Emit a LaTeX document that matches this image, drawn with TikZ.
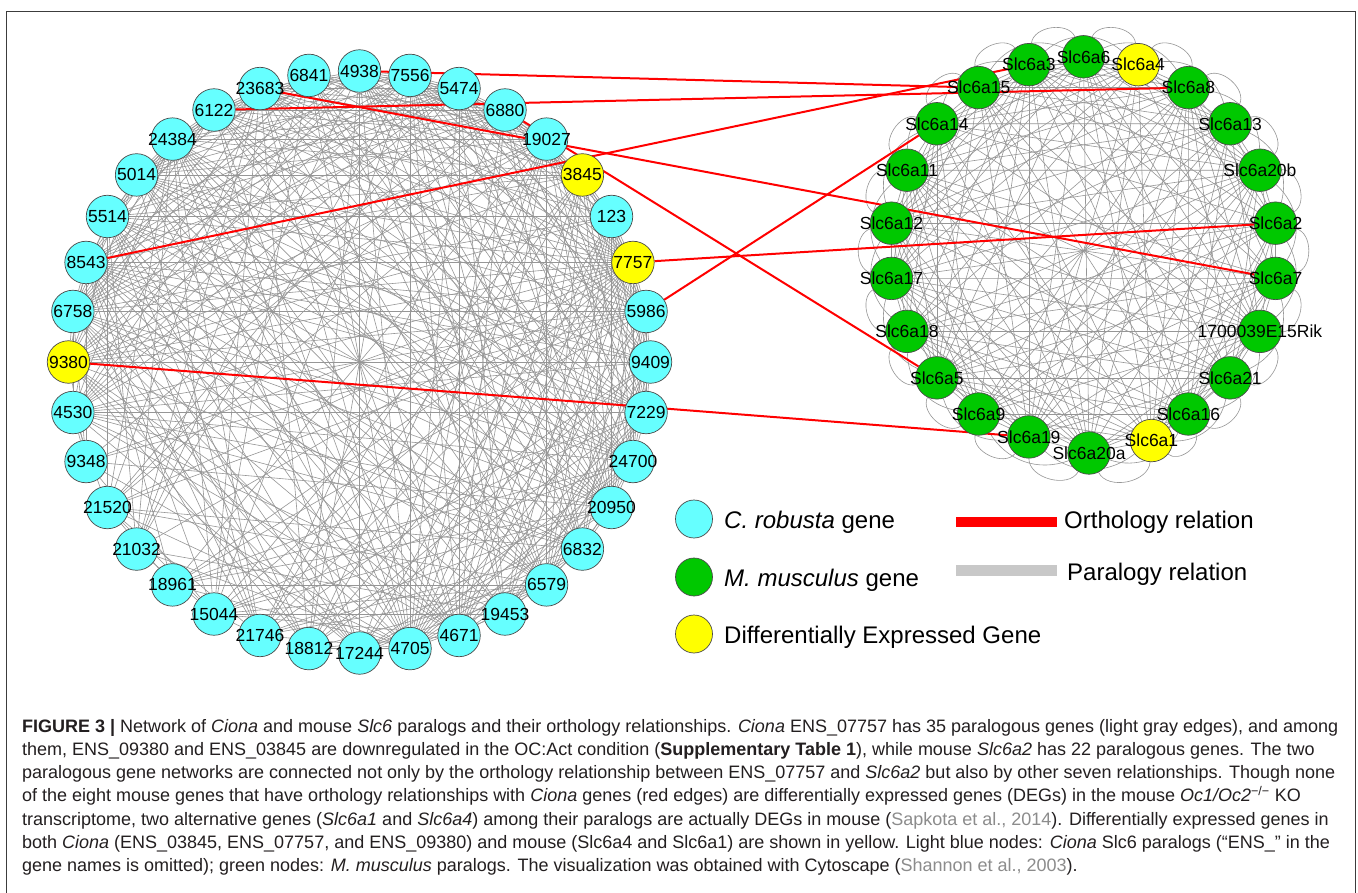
\documentclass[tikz,border=0pt]{standalone}
\usepackage{fontspec}
\setmainfont{Liberation Sans}
\definecolor{cyanN}{HTML}{66FFFF}
\definecolor{greenN}{HTML}{00C800}
\definecolor{yellowN}{HTML}{FFFF00}
\definecolor{nodeB}{HTML}{4A4A4A}
\definecolor{paraG}{HTML}{969696}
\definecolor{legG}{HTML}{C8C8C8}
\definecolor{citeG}{HTML}{8C8C8C}
\definecolor{frameC}{HTML}{3C3C3C}
\definecolor{capC}{HTML}{231F20}
\pgfdeclarelayer{bglayer}
\pgfdeclarelayer{edges}
\pgfdeclarelayer{ortholayer}
\pgfsetlayers{bglayer,edges,ortholayer,main}
\usetikzlibrary{shapes.geometric}
\tikzset{
  gnode/.style={circle, draw=nodeB, line width=0.7pt, minimum size=42.5pt, inner sep=0pt},
  nlabel/.style={font=\fontsize{17.5}{19}\selectfont, inner sep=0pt},
  paral/.style={draw=paraG, line width=0.6pt},
  ortho/.style={draw=red, line width=2pt},
  legnode/.style={ellipse, draw=nodeB, line width=0.7pt, minimum width=37pt, minimum height=38pt, inner sep=0pt},
  legtext/.style={font=\fontsize{24}{28}\selectfont, anchor=base west, inner sep=0pt},
  captext/.style={font=\fontsize{18}{22}\selectfont, text=capC, anchor=base west, inner sep=0pt}
}
\newcommand{\capA}{\textbf{FIGURE 3 |} Network of \textit{Ciona} and mouse \textit{Slc6} paralogs and their orthology relationships. \textit{Ciona} ENS\_07757 has 35 paralogous genes (light gray edges), and among}
\newcommand{\capB}{them, ENS\_09380 and ENS\_03845 are downregulated in the OC:Act condition (\textbf{Supplementary Table 1}), while mouse \textit{Slc6a2} has 22 paralogous genes. The two}
\newcommand{\capC}{paralogous gene networks are connected not only by the orthology relationship between ENS\_07757 and \textit{Slc6a2} but also by other seven relationships. Though none}
\newcommand{\capD}{of the eight mouse genes that have orthology relationships with \textit{Ciona} genes (red edges) are differentially expressed genes (DEGs) in the mouse \textit{Oc1/Oc2}\textsuperscript{−/−} KO}
\newcommand{\capE}{transcriptome, two alternative genes (\textit{Slc6a1} and \textit{Slc6a4}) among their paralogs are actually DEGs in mouse ({\color{citeG}Sapkota et al., 2014}). Differentially expressed genes in}
\newcommand{\capF}{both \textit{Ciona} (ENS\_03845, ENS\_07757, and ENS\_09380) and mouse (Slc6a4 and Slc6a1) are shown in yellow. Light blue nodes: \textit{Ciona} Slc6 paralogs (“ENS\_” in the}
\newcommand{\capG}{gene names is omitted); green nodes: \textit{M. musculus} paralogs. The visualization was obtained with Cytoscape ({\color{citeG}Shannon et al., 2003}).}
\newlength{\capWd}
\begin{document}
\settowidth{\capWd}{\fontsize{18}{22}\selectfont\capA}%
\pgfmathsetmacro\capSX{1316/\capWd}%
\begin{tikzpicture}[x=1pt,y=1pt]
\useasboundingbox (0,0) rectangle (1358,-893);
\begin{pgfonlayer}{bglayer}
\fill[white] (0,0) rectangle (1358,-893);
\end{pgfonlayer}
% frame
\draw[frameC, line width=1.2pt] (6.5,-900) -- (6.5,-11.5) -- (1355.5,-11.5) -- (1355.5,-900);

% ---------- left network (C. robusta) ----------
\foreach \k/\lab/\col in {0/4938/cyanN, 1/7556/cyanN, 2/5474/cyanN, 3/6880/cyanN, 4/19027/cyanN, 5/3845/yellowN, 6/123/cyanN, 7/7757/yellowN, 8/5986/cyanN, 9/9409/cyanN, 10/7229/cyanN, 11/24700/cyanN, 12/20950/cyanN, 13/6832/cyanN, 14/6579/cyanN, 15/19453/cyanN, 16/4671/cyanN, 17/4705/cyanN, 18/17244/cyanN, 19/18812/cyanN, 20/21746/cyanN, 21/15044/cyanN, 22/18961/cyanN, 23/21032/cyanN, 24/21520/cyanN, 25/9348/cyanN, 26/4530/cyanN, 27/9380/yellowN, 28/6758/cyanN, 29/8543/cyanN, 30/5514/cyanN, 31/5014/cyanN, 32/24384/cyanN, 33/6122/cyanN, 34/23683/cyanN, 35/6841/cyanN}{
  \node[gnode, fill=\col] (L\k) at ({359.5+291*cos(90-10*\k)}, {-362+291*sin(90-10*\k)}) {};
}
\foreach \k/\lab in {0/4938, 1/7556, 2/5474, 3/6880, 4/19027, 5/3845, 6/123, 7/7757, 8/5986, 9/9409, 10/7229, 11/24700, 12/20950, 13/6832, 14/6579, 15/19453, 16/4671, 17/4705, 18/17244, 19/18812, 20/21746, 21/15044, 22/18961, 23/21032, 24/21520, 25/9348, 26/4530, 27/9380, 28/6758, 29/8543, 30/5514, 31/5014, 32/24384, 33/6122, 34/23683, 35/6841}{
  \node[nlabel] (L\k t) at (L\k.center) {\lab};
}

% ---------- right network (M. musculus) ----------
\foreach \k/\lab/\col/\dx/\dy in {0/Slc6a6/greenN/0/0, 1/Slc6a4/yellowN/0/0, 2/Slc6a8/greenN/0/0, 3/Slc6a13/greenN/0/0, 4/Slc6a20b/greenN/0/0, 5/Slc6a2/greenN/0/0, 6/Slc6a7/greenN/0/0, 7/1700039E15Rik/greenN/0/0, 8/Slc6a21/greenN/0/0, 9/Slc6a16/greenN/0/0, 10/Slc6a1/yellowN/13.3/-3.6, 11/Slc6a20a/greenN/5.5/-8.2, 12/Slc6a19/greenN/0/0, 13/Slc6a9/greenN/0/0, 14/Slc6a5/greenN/0/0, 15/Slc6a18/greenN/0/0, 16/Slc6a17/greenN/0/0, 17/Slc6a12/greenN/0/0, 18/Slc6a11/greenN/0/0, 19/Slc6a14/greenN/0/0, 20/Slc6a15/greenN/0/0, 21/Slc6a3/greenN/0/0}{
  \node[gnode, fill=\col] (R\k) at ({1083.5+194*cos(90-360/22*\k)+\dx}, {-250.8+194*sin(90-360/22*\k)+\dy}) {};
}
\foreach \k/\lab in {0/Slc6a6, 1/Slc6a4, 2/Slc6a8, 3/Slc6a13, 4/Slc6a20b, 5/Slc6a2, 6/Slc6a7, 7/1700039E15Rik, 8/Slc6a21, 9/Slc6a16, 10/Slc6a1, 11/Slc6a20a, 12/Slc6a19, 13/Slc6a9, 14/Slc6a5, 15/Slc6a18, 16/Slc6a17, 17/Slc6a12, 18/Slc6a11, 19/Slc6a14, 20/Slc6a15, 21/Slc6a3}{
  \node[nlabel] (R\k t) at (R\k.center) {\lab};
}

% ---------- paralogy edges ----------
\def\wl{{0.9,0.9,0.9,0.95,0.95,0.9,0.85,1.0,0.9,0.85,0.9,0.95,0.85,0.85,0.9,0.7,0.8,1.0,0.6,0.35,0.55,0.5,0.4,0.3,0.5,0.55,0.7,0.8,0.85,0.9,0.85,0.85,0.9,0.9,0.9,0.9}}
\pgfmathsetseed{4242}
\begin{pgfonlayer}{edges}
\foreach \i in {0,...,34}{
  \pgfmathtruncatemacro\js{\i+1}
  \foreach \j in {\js,...,35}{
    \pgfmathsetmacro\pp{(\i==7||\j==7) ? 1.01 : \wl[\i]*\wl[\j]}
    \pgfmathtruncatemacro\ok{rnd<\pp}
    \ifnum\ok=1 \draw[paral] (L\i) -- (L\j); \fi
  }
}
\foreach \i in {0,...,20}{
  \pgfmathtruncatemacro\js{\i+1}
  \foreach \j in {\js,...,21}{
    \pgfmathtruncatemacro\ok{rnd<0.85}
    \ifnum\ok=1 \draw[paral] (R\i) -- (R\j); \fi
  }
}
\foreach \k in {0,...,21}{
  \pgfmathtruncatemacro\n{mod(\k+1,22)}
  \pgfmathtruncatemacro\m{mod(\k+2,22)}
  \draw[paral] (R\k) to[bend left=75] (R\n);
  \draw[paral] (R\k) to[bend left=40] (R\m);
}
\end{pgfonlayer}

% ---------- orthology edges ----------
\begin{pgfonlayer}{ortholayer}
\draw[ortho] (L0) -- (R20);
\draw[ortho] (L33) -- (R2);
\draw[ortho] (L29) -- (R21);
\draw[ortho] (L34) -- (R6);
\draw[ortho] (L3) -- (R14);
\draw[ortho] (L7) -- (R5);
\draw[ortho] (L8) -- (R19);
\draw[ortho] (L27) -- (R12);
\end{pgfonlayer}

% ---------- legend ----------
\node[legnode, fill=cyanN] (lg1) at (694,-519) {};
\node[legnode, fill=greenN] (lg2) at (694,-577) {};
\node[legnode, fill=yellowN] (lg3) at (694,-634) {};
\node[legtext] (lt1) at (724,-528) {\textit{C. robusta} gene};
\node[legtext] (lt2) at (724,-586) {\textit{M. musculus} gene};
\node[legtext] (lt3) at (724,-643) {Differentially Expressed Gene};
\fill[red] (956,-517) rectangle (1057,-527);
\fill[legG] (956,-565) rectangle (1057,-576);
\node[legtext] (lt4) at (1064,-528) {Orthology relation};
\node[legtext] (lt5) at (1067,-580) {Paralogy relation};

% ---------- caption ----------
\foreach \t/\yy [count=\c] in {\capA/732, \capB/755.3, \capC/778.6, \capD/801.9, \capE/825.2, \capF/848.5, \capG/871.8}{
  \node[captext] (cap\c) at (22,-\yy) {\scalebox{\capSX}[1]{\t}};
}
\end{tikzpicture}
\end{document}
